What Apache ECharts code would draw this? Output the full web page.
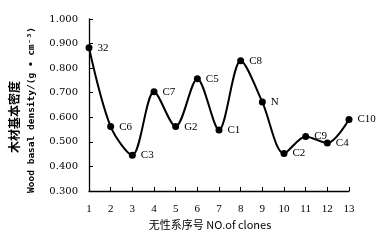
<!DOCTYPE html>
<html>
<head>
<meta charset="utf-8">
<script src="https://cdn.jsdelivr.net/npm/echarts@6/dist/echarts.min.js"></script>
<style>
  html, body { margin: 0; padding: 0; background: #fff; }
  #main { width: 377px; height: 244px; }
</style>
</head>
<body>
<div id="main"></div>
<script>
var cloneNo = [1, 2, 3, 4, 5, 6, 7, 8, 9, 10, 11, 12, 13];
var cloneNames = ['32', 'C6', 'C3', 'C7', 'G2', 'C5', 'C1', 'C8', 'N', 'C2', 'C9', 'C4', 'C10'];
var density = [0.883, 0.562, 0.446, 0.704, 0.562, 0.757, 0.548, 0.830, 0.662, 0.453, 0.522, 0.495, 0.591];

var chartDom = document.getElementById('main');
var myChart = echarts.init(chartDom);
var option;

var points = cloneNo.map(function (x, i) {
  return { value: [x, density[i]], name: cloneNames[i] };
});

var serif = '"Liberation Serif", "DejaVu Serif", serif';

option = {
  animation: false,
  grid: { left: 89, right: 28, top: 19, bottom: 53 },
  xAxis: {
    type: 'value',
    min: 1,
    max: 13,
    interval: 1,
    axisLine: { lineStyle: { color: '#000', width: 1.3 } },
    axisTick: { inside: true, length: 4, lineStyle: { color: '#000' } },
    axisLabel: { color: '#000', fontFamily: serif, fontSize: 11, margin: 13 },
    splitLine: { show: false }
  },
  yAxis: {
    type: 'value',
    min: 0.3,
    max: 1.0,
    interval: 0.1,
    axisLine: { show: true, lineStyle: { color: '#000', width: 1.3 } },
    axisTick: { show: true, inside: true, length: 4, lineStyle: { color: '#000' } },
    axisLabel: {
      color: '#000', fontFamily: '"DejaVu Serif", serif', fontSize: 10, margin: 11,
      formatter: function (v) { return v.toFixed(3); }
    },
    splitLine: { show: false }
  },
  series: [
    {
      type: 'line',
      data: points,
      smooth: 0.3,
      symbol: 'circle',
      symbolSize: 7,
      itemStyle: { color: '#000' },
      lineStyle: { color: '#000', width: 2 },
      label: {
        show: true,
        position: 'right',
        distance: 5,
        color: '#000',
        fontFamily: serif,
        fontSize: 11,
        formatter: function (p) { return p.name; }
      }
    }
  ],
  graphic: [
    {
      type: 'text',
      x: 14, y: 117,
      rotation: Math.PI / 2,
      style: {
        text: '木材基本密度',
        font: 'bold 12px "Noto Sans CJK SC"',
        fill: '#000',
        align: 'center',
        verticalAlign: 'middle'
      }
    },
    {
      type: 'text',
      x: 32, y: 110,
      rotation: Math.PI / 2,
      style: {
        text: 'Wood basal density/(g • cm⁻³)',
        font: 'bold 9.5px "DejaVu Sans Mono"',
        fill: '#000',
        align: 'center',
        verticalAlign: 'middle'
      }
    },
    {
      type: 'text',
      x: 210, y: 225,
      style: {
        text: '无性系序号 NO.of clones',
        font: '11px "Noto Sans CJK SC"',
        fill: '#000',
        align: 'center',
        verticalAlign: 'middle'
      }
    }
  ]
};

option && myChart.setOption(option);
</script>
</body>
</html>
